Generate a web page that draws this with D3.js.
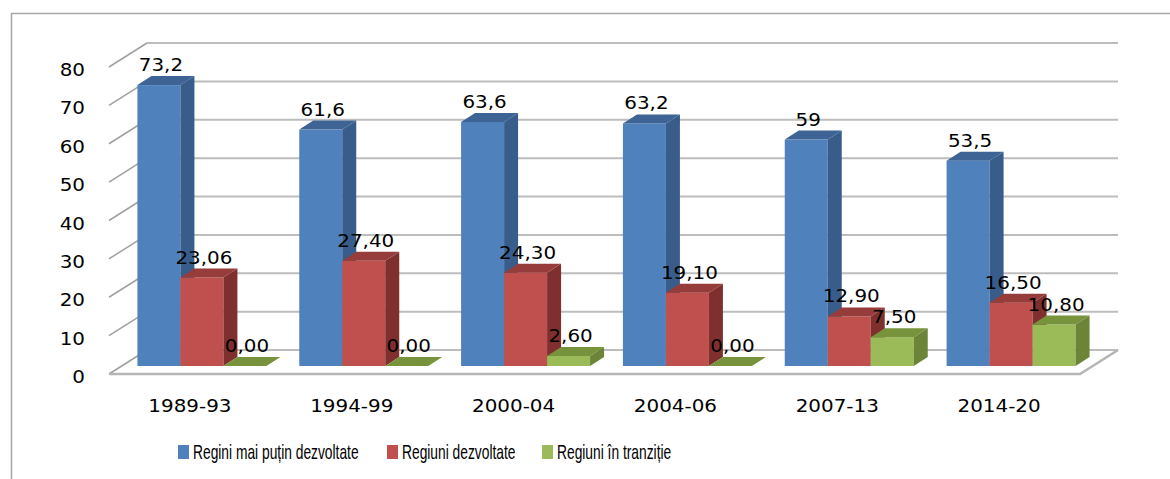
<!DOCTYPE html>
<html>
<head>
<meta charset="utf-8">
<script src="https://cdn.jsdelivr.net/npm/d3@7"></script>
<style>
  body { margin: 0; background: #fff; }
  svg { display: block; }
</style>
</head>
<body>
<svg id="chart" width="1170" height="479"></svg>
<script>
// data
const categories = ["1989-93", "1994-99", "2000-04", "2004-06", "2007-13", "2014-20"];
const seriesNames = ["Regini mai puțin dezvoltate", "Regiuni dezvoltate", "Regiuni în tranziție"];
const lessDeveloped = [73.2, 61.6, 63.6, 63.2, 59, 53.5];
const developed = [23.06, 27.40, 24.30, 19.10, 12.90, 16.50];
const transition = [0, 0, 2.60, 0, 7.50, 10.80];
const yTicks = [0, 10, 20, 30, 40, 50, 60, 70, 80];

const seriesValues = [lessDeveloped, developed, transition];
const seriesFormat = [
  v => String(v).replace(".", ","),
  v => v.toFixed(2).replace(".", ","),
  v => v.toFixed(2).replace(".", ",")
];
const colors = [
  { front: "#4F81BD", side: "#385D8A", top: "#3D6494" },
  { front: "#C0504D", side: "#7F302E", top: "#963C3A" },
  { front: "#9BBB59", side: "#6B8438", top: "#77933C" }
];

const svg = d3.select("#chart");
const frontX0 = 109, frontX1 = 1080;
const depth = { dx: 38, dy: -24 };      // floor front -> back wall
const barOff = { dx: 12, dy: -8 };      // floor front -> bar front face
const barDepth = { dx: 14, dy: -9 };    // bar thickness
const numFont = "'DejaVu Sans', Verdana, sans-serif";
const stretch = 1.17;

const y = d3.scaleLinear().domain([0, 80]).range([374, 67]);
const x = d3.scaleBand().domain(categories).range([frontX0, frontX1])
  .paddingInner(0.203).paddingOuter(0.1015);
const xs = d3.scaleBand().domain(d3.range(3)).range([0, x.bandwidth()]);

// outer border
svg.append("rect")
  .attr("x", 11.5).attr("y", 13.5).attr("width", 1300).attr("height", 600)
  .attr("fill", "none").attr("stroke", "#A6A6A6").attr("stroke-width", 1.5);

// back wall gridlines
svg.append("g").selectAll("line").data(yTicks).join("line")
  .attr("x1", frontX0 + depth.dx).attr("x2", frontX1 + depth.dx)
  .attr("y1", d => y(d) + depth.dy).attr("y2", d => y(d) + depth.dy)
  .attr("stroke", "#BDBDBD").attr("stroke-width", 2);

// side wall diagonals
svg.append("g").selectAll("line").data(yTicks).join("line")
  .attr("x1", frontX0).attr("x2", frontX0 + depth.dx)
  .attr("y1", d => y(d)).attr("y2", d => y(d) + depth.dy)
  .attr("stroke", "#A0A0A0").attr("stroke-width", 1.5);

// floor
svg.append("path")
  .attr("d", `M${frontX0},${y(0)}L${frontX1},${y(0)}L${frontX1 + depth.dx},${y(0) + depth.dy}`)
  .attr("fill", "none").attr("stroke", "#B5B5B5").attr("stroke-width", 2.5);

function stretchedText(g, tx, ty, txt, anchor) {
  g.append("text")
    .attr("transform", `translate(${tx},${ty}) scale(${stretch},1)`)
    .attr("text-anchor", anchor)
    .style("font-family", numFont)
    .style("font-size", "17px")
    .attr("fill", "#000")
    .text(txt);
}

// y tick labels
const yLab = svg.append("g");
yTicks.forEach(t => stretchedText(yLab, 85, y(t) + 9, t, "end"));

// bars (left to right so later faces overlap earlier sides)
const bars = svg.append("g");
const labels = [];
categories.forEach((c, i) => {
  seriesValues.forEach((vals, s) => {
    const v = vals[i];
    const x0 = x(c) + xs(s) + barOff.dx;
    const x1 = x0 + xs.bandwidth();
    const yb = y(0) + barOff.dy;
    const yt = y(v) + barOff.dy;
    const col = colors[s];
    if (v > 0) {
      bars.append("rect")
        .attr("x", x0).attr("y", yt).attr("width", x1 - x0).attr("height", yb - yt)
        .attr("fill", col.front);
      bars.append("path")
        .attr("d", `M${x1},${yb}L${x1 + barDepth.dx},${yb + barDepth.dy}L${x1 + barDepth.dx},${yt + barDepth.dy}L${x1},${yt}Z`)
        .attr("fill", col.side);
    }
    bars.append("path")
      .attr("d", `M${x0},${yt}L${x1},${yt}L${x1 + barDepth.dx},${yt + barDepth.dy}L${x0 + barDepth.dx},${yt + barDepth.dy}Z`)
      .attr("fill", col.top);
    labels.push({ x: (x0 + x1) / 2 + 2, y: yt - 14, txt: seriesFormat[s](v) });
  });
});

const valLab = svg.append("g");
labels.forEach(l => stretchedText(valLab, l.x, l.y, l.txt, "middle"));

// category labels
const xLab = svg.append("g");
categories.forEach(c => stretchedText(xLab, x(c) + x.bandwidth() / 2, 412, c, "middle"));

// legend
const legendX = [178, 387, 542];
const legend = svg.append("g");
seriesNames.forEach((n, s) => {
  legend.append("rect")
    .attr("x", legendX[s]).attr("y", 445).attr("width", 11).attr("height", 14)
    .attr("fill", colors[s].front);
  legend.append("text")
    .attr("transform", `translate(${legendX[s] + 15},459) scale(0.69,1)`)
    .style("font-family", "'Liberation Sans', Arial, sans-serif")
    .style("font-size", "20px")
    .attr("fill", "#000")
    .text(n);
});
</script>
</body>
</html>
